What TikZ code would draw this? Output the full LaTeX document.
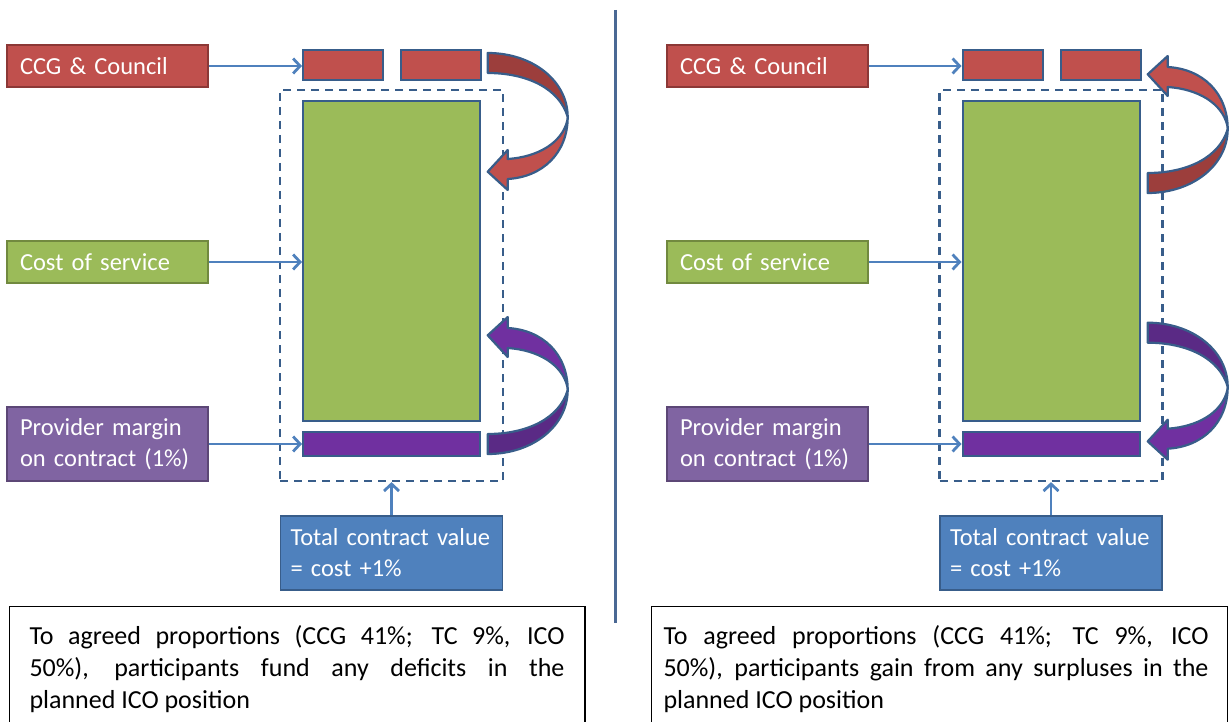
\documentclass[tikz,border=0pt]{standalone}
\usepackage{fontspec}
\setmainfont{Carlito}
\usetikzlibrary{arrows.meta}
\definecolor{cRed}{HTML}{C0504D}
\definecolor{cRedD}{HTML}{8C3836}
\definecolor{cRedBack}{HTML}{9C3E3C}
\definecolor{cGreen}{HTML}{9BBB59}
\definecolor{cGreenD}{HTML}{71893F}
\definecolor{cViolet}{HTML}{8064A2}
\definecolor{cVioletD}{HTML}{5C4776}
\definecolor{cPurple}{HTML}{7030A0}
\definecolor{cPurpleBack}{HTML}{5A2A85}
\definecolor{cBlue}{HTML}{4F81BD}
\definecolor{cBlueD}{HTML}{385D8A}
\definecolor{cDiv}{HTML}{4A6894}
\newcommand{\bentarrow}[3]{%
  \begin{scope}[#1]
    \filldraw[fill=#3, draw=cBlueD, line width=2.2pt, line join=round]
      (0,0) .. controls (45,0) and (80,28) .. (80,64)
      .. controls (72,36) and (40,20) .. (0,20) -- cycle;
    \filldraw[fill=#2, draw=cBlueD, line width=2.2pt, line join=round]
      (80,64) .. controls (80,100) and (55,124) .. (20,126)
      -- (20,137) -- (0,118.7) -- (20,97) -- (20,106)
      .. controls (50,104) and (74,90) .. (79.5,68) -- cycle;
  \end{scope}}
\begin{document}
\begin{tikzpicture}[x=1pt,y=-1pt,
  lbl/.style={draw, line width=1.8pt, text=white, font=\fontsize{24.5}{31}\selectfont,
    minimum width=201pt, minimum height=42pt, text width=175pt, align=left,
    inner xsep=13pt, inner ysep=0pt},
  blk/.style={draw=cBlueD, line width=2pt, inner sep=0pt},
  dashbox/.style={draw=cBlueD, line width=2.2pt, dash pattern=on 8pt off 6pt, inner sep=0pt,
    minimum width=223pt, minimum height=391pt},
  conn/.style={draw=cBlue, line width=2.8pt, -{Straight Barb[length=7pt,width=15pt]}},
  note/.style={font=\fontsize{26}{32}\selectfont, align=left, inner sep=0pt, anchor=north west},
  notebox/.style={draw=black, line width=1.2pt}
]
\useasboundingbox (0,0) rectangle (1229,722);

% divider
\draw[cDiv, line width=3pt] (615.5,10) -- (615.5,623);

% ===== Left panel =====
\node[dashbox] (dashL) at (391.5,285.5) {};
\node[blk, fill=cRed, minimum width=80pt, minimum height=30pt] (r1L) at (343,65) {};
\node[blk, fill=cRed, minimum width=80pt, minimum height=30pt] (r2L) at (441,65) {};
\node[blk, fill=cGreen, minimum width=177pt, minimum height=320pt] (gL) at (391.5,261) {};
\node[blk, fill=cPurple, minimum width=177pt, minimum height=24pt] (pL) at (391.5,444) {};

\node[lbl, fill=cRed, draw=cRedD] (ccgL) at (107.5,66) {CCG \& Council};
\node[lbl, fill=cGreen, draw=cGreenD] (cosL) at (107.5,262) {Cost of service};
\node[lbl, fill=cViolet, draw=cVioletD, minimum height=74pt] (provL) at (107.5,444) {Provider margin\\on contract (1\%)};
\node[lbl, fill=cBlue, draw=cBlueD, minimum width=222pt, text width=202pt, inner xsep=10pt, minimum height=74pt] (tcvL) at (391.5,553) {\mbox{Total contract value}\\= cost +1\%};

\draw[conn] (ccgL.east) -- (ccgL.east -| r1L.west);
\draw[conn] (cosL.east) -- (cosL.east -| gL.west);
\draw[conn] (provL.east) -- (provL.east -| pL.west);
\draw[conn] (tcvL.north) -- (dashL.south);

\bentarrow{shift={(487.7,53)}}{cRed}{cRedBack}
\bentarrow{shift={(487.7,454)},yscale=-1}{cPurple}{cPurpleBack}

\draw[notebox] (9.5,606.5) rectangle (585,740);
\node[note] (noteL) at (29.3,625) {\makebox[535pt][s]{To agreed proportions (CCG 41\%; TC 9\%, ICO}\\
\makebox[535pt][s]{50\%), participants fund any deficits in the}\\
planned ICO position};

% ===== Right panel =====
\node[dashbox] (dashR) at (1051,285.5) {};
\node[blk, fill=cRed, minimum width=80pt, minimum height=30pt] (r1R) at (1002.5,65) {};
\node[blk, fill=cRed, minimum width=80pt, minimum height=30pt] (r2R) at (1100.5,65) {};
\node[blk, fill=cGreen, minimum width=177pt, minimum height=320pt] (gR) at (1051,261) {};
\node[blk, fill=cPurple, minimum width=177pt, minimum height=24pt] (pR) at (1051,444) {};

\node[lbl, fill=cRed, draw=cRedD] (ccgR) at (767.5,66) {CCG \& Council};
\node[lbl, fill=cGreen, draw=cGreenD] (cosR) at (767.5,262) {Cost of service};
\node[lbl, fill=cViolet, draw=cVioletD, minimum height=74pt] (provR) at (767.5,444) {Provider margin\\on contract (1\%)};
\node[lbl, fill=cBlue, draw=cBlueD, minimum width=222pt, text width=202pt, inner xsep=10pt, minimum height=74pt] (tcvR) at (1051,553) {\mbox{Total contract value}\\= cost +1\%};

\draw[conn] (ccgR.east) -- (ccgR.east -| r1R.west);
\draw[conn] (cosR.east) -- (cosR.east -| gR.west);
\draw[conn] (provR.east) -- (provR.east -| pR.west);
\draw[conn] (tcvR.north) -- (dashR.south);

\bentarrow{shift={(1147.7,193)},yscale=-1}{cRed}{cRedBack}
\bentarrow{shift={(1147.7,322.7)}}{cPurple}{cPurpleBack}

\draw[notebox] (651.5,606.5) rectangle (1227.5,740);
\node[note] (noteR) at (663.3,625) {\makebox[545pt][s]{To agreed proportions (CCG 41\%; TC 9\%, ICO}\\
\makebox[545pt][s]{50\%), participants gain from any surpluses in the}\\
planned ICO position};
\end{tikzpicture}
\end{document}
